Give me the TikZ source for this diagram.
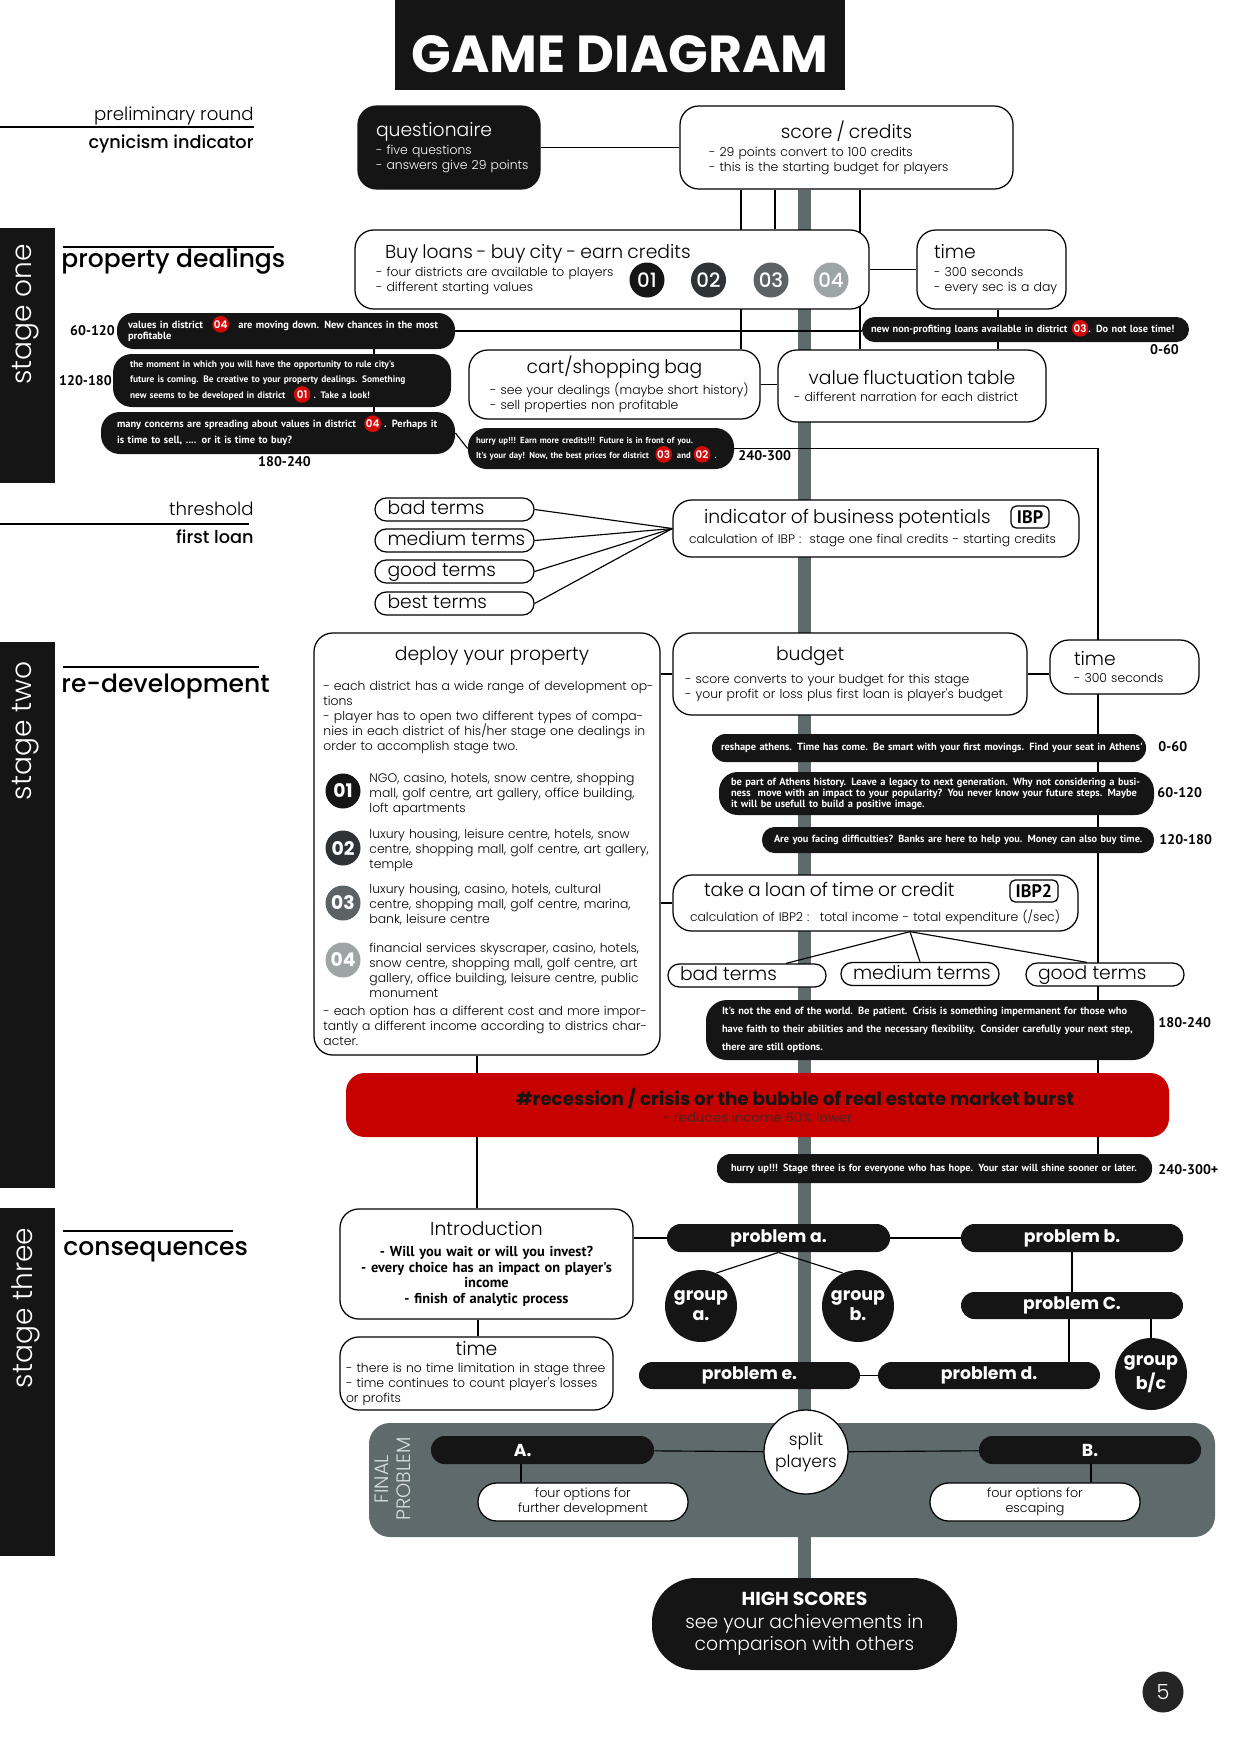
\documentclass[tikz,border=0pt]{standalone}
\usepackage{fontspec}
\setmainfont{Poppins}
\newfontfamily\lightfont{Poppins Light}
\newfontfamily\medfont{Poppins Medium}
\newfontfamily\bubfont{PT Sans}
\usetikzlibrary{backgrounds}

\definecolor{ink}{HTML}{151515}
\definecolor{spinegray}{HTML}{5F6A6C}
\definecolor{alarm}{HTML}{C70000}
\definecolor{alarmtxt}{HTML}{4E2424}
\definecolor{dtwo}{HTML}{2F3335}
\definecolor{dthree}{HTML}{5B6365}
\definecolor{dfour}{HTML}{9EA6A5}
\definecolor{dotred}{HTML}{D20A0A}
\definecolor{paneltxt}{HTML}{DADEDE}
\definecolor{pagegray}{HTML}{252525}

\newdimen\pxu \pxu=0.48pt
\newcommand\ttlfont{\lightfont\mdseries\fontsize{9}{10}\selectfont}
\newcommand\bodyfont{\lightfont\fontsize{5.95}{7.2}\selectfont}
\newcommand\bubsize[2]{\bubfont\bfseries\fontsize{#1}{#2}\selectfont}
\newcommand\termtxt[1]{\makebox[134\pxu][l]{#1}}
\newcommand\rdot[2]{\smash{\tikz[baseline=(#1.base)]\node[rdot] (#1) {#2};}}

\tikzset{
  link/.style={line width=0.55pt},
  spine/.style={line width=13*\pxu, spinegray},
  box/.style={draw, line width=0.6pt, fill=white, rounded corners=9pt, align=left, inner ysep=0pt, font=\bodyfont},
  darkbox/.style={box, draw=ink, fill=ink, text=white},
  tagbox/.style={draw, line width=0.6pt, rounded corners=2.5pt, inner sep=0pt, font=\bubsize{8.7}{9}},
  term/.style={draw, line width=0.6pt, fill=white, rounded corners=5.4pt, minimum width=159*\pxu, minimum height=23*\pxu, inner sep=0pt, text height=7pt, text depth=2pt, font=\lightfont\fontsize{9}{9}\selectfont},
  dcirc/.style={circle, inner sep=0pt, minimum size=35*\pxu, text=white, font=\medfont\fontsize{9.5}{10}\selectfont},
  bubble/.style={fill=ink, text=white, rounded corners=#1, inner ysep=0pt, align=left},
  bubble/.default=6pt,
  rdot/.style={circle, draw=none, fill=dotred, text=white, sharp corners, inner sep=0pt, minimum size=8pt, text width={}, anchor=center, font=\lightfont\fontsize{5}{5}\selectfont},
  tlabel/.style={inner sep=0pt, font=\bubsize{6.7}{7}},
  lbl/.style={inner sep=0pt, font=\lightfont\fontsize{8.7}{10}\selectfont},
  lblm/.style={inner sep=0pt, font=\medfont\fontsize{8.5}{10}\selectfont},
  head/.style={inner sep=0pt, anchor=base west, font=\medfont\fontsize{12}{14}\selectfont},
  stagebar/.style={fill=ink, inner sep=0pt, minimum width=55*\pxu},
  stagetxt/.style={rotate=90, text=white, inner sep=0pt, font=\lightfont\fontsize{13.5}{14}\selectfont},
  txt/.style={inner sep=0pt, align=left, text width=180pt, font=\bodyfont},
  prob/.style={fill=ink, text=white, rounded corners=6.5pt, minimum width=222*\pxu, minimum height=28*\pxu, inner sep=0pt, font=\bfseries\fontsize{8.3}{8.3}\selectfont},
  grp/.style={circle, fill=ink, text=white, minimum size=72*\pxu, inner sep=0pt, align=center, font=\bfseries\fontsize{8.4}{9.6}\selectfont},
  choice/.style={draw, line width=0.6pt, fill=white, rounded corners=9pt, minimum width=210*\pxu, minimum height=38*\pxu, inner sep=0pt, align=center, font=\lightfont\fontsize{6.1}{7.2}\selectfont},
  panel/.style={fill=spinegray, rounded corners=10pt, inner sep=0pt}
}

\begin{document}
\begin{tikzpicture}[x=0.48pt, y=-0.48pt]
    \useasboundingbox (0,0) rectangle (1240,1754);

    \node[fill=ink, minimum width=450*\pxu, minimum height=90*\pxu, inner sep=0pt, text=white, text height=30pt, text depth=4pt, font=\bfseries\fontsize{25}{25}\selectfont] (title) at (620,45) {GAME DIAGRAM};

    % side labels
    \node[lbl, anchor=base east] (prelim) at (254,120) {preliminary round};
    \draw[link] (0,127) -- (254,127);
    \node[lblm, anchor=base east] (cynic) at (254,148) {cynicism indicator};
    \node[lbl, anchor=base east] (threshold) at (254,515) {threshold};
    \draw[link] (0,524) -- (249,524);
    \node[lblm, anchor=base east] (firstloan) at (254,543) {first loan};

    \node[stagebar, minimum height=255*\pxu] (stageone) at (27.5,355.5) {};
    \node[stagetxt] (stageonetxt) at (26,314.5) {stage one};
    \node[stagebar, minimum height=546*\pxu] (stagetwo) at (27.5,915) {};
    \node[stagetxt] (stagetwotxt) at (26,731) {stage two};
    \node[stagebar, minimum height=348*\pxu] (stagethree) at (27.5,1382) {};
    \node[stagetxt] (stagethreetxt) at (26,1308) {stage three};

    \node[head] (dealings) at (61,267) {property dealings};
    \draw[link] (63,247) -- (274,247);
    \node[head] (redev) at (61,692) {re-development};
    \draw[link] (63,667) -- (259,667);
    \node[head] (conseq) at (63,1255) {consequences};
    \draw[link] (63,1231) -- (233,1231);

    % preliminary round
    \node[darkbox, minimum width=182*\pxu, minimum height=83*\pxu, inner xsep=18*\pxu, text width=146*\pxu] (quest) at (449,147.5)
        {{\ttlfont questionaire}\\[1.3pt] - five questions\\ \mbox{- answers give 29 points}};
    \node[box, minimum width=333*\pxu, minimum height=83*\pxu, inner xsep=29*\pxu, text width=275*\pxu] (score) at (846.5,147.5)
        {\makebox[\hsize]{\ttlfont score / credits}\\[1.3pt] \mbox{- 29 points convert to 100 credits}\\ \mbox{- this is the starting budget for players}};

    % stage one
    \node[box, minimum width=514*\pxu, minimum height=79*\pxu, inner xsep=21*\pxu, text width=472*\pxu] (buy) at (612,269.5)
        {{\hspace*{9\pxu}\ttlfont Buy loans - buy city - earn credits}\\[1.3pt] - four districts are available to players\\ - different starting values};
    \node[dcirc, fill=ink] (d1) at (647,280) {01};
    \node[dcirc, fill=dtwo] (d2) at (708.5,280) {02};
    \node[dcirc, fill=dthree] (d3) at (771,280) {03};
    \node[dcirc, fill=dfour] (d4) at (831,280) {04};
    \node[box, minimum width=149*\pxu, minimum height=79*\pxu, inner xsep=17*\pxu, text width=115*\pxu] (time1) at (991.5,269.5)
        {{\ttlfont time}\\[1.3pt] \mbox{- 300 seconds}\\ \mbox{- every sec is a day}};
    \node[box, minimum width=291*\pxu, minimum height=69*\pxu, inner xsep=21*\pxu, text width=249*\pxu] (cart) at (614.5,384.5)
        {\makebox[\hsize]{\ttlfont cart/shopping bag}\\[1.3pt] \mbox{- see your dealings (maybe short history)}\\ \mbox{- sell properties non profitable}};
    \node[box, minimum width=268*\pxu, minimum height=72*\pxu, inner xsep=16*\pxu, text width=236*\pxu] (value) at (912,386)
        {\makebox[\hsize]{\ttlfont value fluctuation table}\\[1.3pt] \mbox{- different narration for each district}};

    \node[bubble=8pt, minimum width=338*\pxu, minimum height=36*\pxu, inner xsep=11*\pxu, text width=316*\pxu, font=\bubsize{5}{5.3}] (valuesdrop) at (286,331)
        {\mbox{values in district\hspace{4.5pt}\rdot{dA}{04}\hspace{4.5pt}are moving down. New chances in the most}\\ profitable};
    \node[bubble=9pt, minimum width=338*\pxu, minimum height=53*\pxu, inner xsep=17*\pxu, text width=304*\pxu, font=\bubsize{4.5}{7.4}] (ruletime) at (282,380.5)
        {\mbox{the moment in which you will have the opportunity to rule city's}\\ \mbox{future is coming. Be creative to your property dealings. Something}\\ \mbox{new seems to be developed in district\hspace{4pt}\rdot{dB}{01}\hspace{1.5pt}. Take a look!}};
    \node[bubble=9pt, minimum width=354*\pxu, minimum height=42*\pxu, inner xsep=16*\pxu, text width=322*\pxu, font=\bubsize{5}{7.7}] (concerns) at (278,433)
        {\mbox{many concerns are spreading about values in district\hspace{4pt}\rdot{dC}{04}\hspace{1.5pt}. Perhaps it}\\ is time to sell, .... or it is time to buy?};
    \node[bubble=9pt, minimum width=266*\pxu, minimum height=41*\pxu, inner xsep=8*\pxu, text width=250*\pxu, font=\bubsize{4.2}{7.2}] (hurrycredits) at (601,448.5)
        {\mbox{hurry up!!! Earn more credits!!! Future is in front of you.}\\ \mbox{It's your day! Now, the best prices for district\hspace{3pt}\rdot{dD}{03}\hspace{1pt} and \rdot{dE}{02}\hspace{2pt}.}};
    \node[bubble=6pt, minimum width=327*\pxu, minimum height=25*\pxu, inner xsep=9*\pxu, text width=309*\pxu, font=\bubsize{4.95}{5}] (nonprofit) at (1025.5,329.5)
        {\mbox{new non-profiting loans available in district\hspace{2pt}\rdot{dF}{03}. Do not lose time!}};

    \node[tlabel, anchor=base] (ta1) at (92.5,335) {60-120};
    \node[tlabel, anchor=base] (ta2) at (85.5,385) {120-180};
    \node[tlabel, anchor=base] (ta3) at (284.5,466) {180-240};
    \node[tlabel, anchor=base west] (ta4) at (738,460) {240-300};
    \node[tlabel, anchor=base] (ta0) at (1164.5,354) {0-60};

    % threshold
    \node[term] (bad) at (454.5,509.5) {\termtxt{bad terms}};
    \node[term] (medium) at (454.5,540.5) {\termtxt{medium terms}};
    \node[term] (good) at (454.5,571.5) {\termtxt{good terms}};
    \node[term] (best) at (454.5,603.5) {\termtxt{best terms}};
    \node[box, minimum width=406*\pxu, minimum height=57*\pxu, inner xsep=16*\pxu, text width=374*\pxu] (ibp) at (876,528.5)
        {{\hspace*{15\pxu}\ttlfont indicator of business potentials}\\[2.4pt] \mbox{calculation of IBP :~ stage one final credits - starting credits}};
    \node[tagbox, minimum width=38*\pxu, minimum height=22*\pxu] (ibptag) at (1030,517) {IBP};

    % stage two
    \node[box, minimum width=346*\pxu, minimum height=422*\pxu] (deploy) at (487,844) {};
    \node[inner sep=0pt, anchor=base, font=\ttlfont] (deploytitle) at (492,660) {deploy your property};
    \node[txt, anchor=base west] (deployintro) at (323,690)
        {- each district has a wide range of development op-\\ tions\\ - player has to open two different types of compa-\\ nies in each district of his/her stage one dealings in\\ order to accomplish stage two.};
    \node[dcirc, fill=ink, font=\bfseries\fontsize{9}{10}\selectfont] (p1) at (343,791) {01};
    \node[txt, anchor=base west] (p1txt) at (369,782) {NGO, casino, hotels, snow centre, shopping\\ mall, golf centre, art gallery, office building,\\ loft apartments};
    \node[dcirc, fill=dtwo, font=\bfseries\fontsize{9}{10}\selectfont] (p2) at (343,848) {02};
    \node[txt, anchor=base west] (p2txt) at (369,838) {luxury housing, leisure centre, hotels, snow\\ centre, shopping mall, golf centre, art gallery,\\ temple};
    \node[dcirc, fill=dthree, font=\bfseries\fontsize{9}{10}\selectfont] (p3) at (343,903) {03};
    \node[txt, anchor=base west] (p3txt) at (369,893) {luxury housing, casino, hotels, cultural\\ centre, shopping mall, golf centre, marina,\\ bank, leisure centre};
    \node[dcirc, fill=dfour, font=\bfseries\fontsize{9}{10}\selectfont] (p4) at (343,960) {04};
    \node[txt, anchor=base west] (p4txt) at (369,952) {financial services skyscraper, casino, hotels,\\ snow centre, shopping mall, golf centre, art\\ gallery, office building, leisure centre, public\\ monument};
    \node[txt, anchor=base west] (deployoutro) at (323,1015)
        {- each option has a different cost and more impor-\\ tantly a different income according to districs char-\\ acter.};

    \node[box, minimum width=354*\pxu, minimum height=82*\pxu, inner xsep=12*\pxu, text width=330*\pxu] (budget) at (850,674)
        {{\hspace*{91\pxu}\ttlfont budget}\\[3.8pt] \mbox{- score converts to your budget for this stage}\\ \mbox{- your profit or loss plus first loan is player's budget}};
    \node[box, minimum width=149*\pxu, minimum height=54*\pxu, inner xsep=24*\pxu, text width=101*\pxu] (time2) at (1124.5,667)
        {{\ttlfont time}\\[1pt] \mbox{- 300 seconds}};

    \node[bubble=6.5pt, minimum width=434*\pxu, minimum height=28*\pxu, inner xsep=9*\pxu, text width=416*\pxu, font=\bubsize{5}{5.3}] (reshape) at (929,748)
        {\mbox{reshape athens. Time has come. Be smart with your first movings. Find your seat in Athens'}};
    \node[bubble=9pt, minimum width=435*\pxu, minimum height=43*\pxu, inner xsep=12*\pxu, text width=411*\pxu, font=\bubsize{5}{5.3}] (legacy) at (936.5,793.5)
        {\mbox{be part of Athens history. Leave a legacy to next generation. Why not considering a busi-}\\ \mbox{ness~ move with an impact to your popularity? You never know your future steps. Maybe}\\ \mbox{it will be usefull to build a positive image.}};
    \node[bubble=6pt, minimum width=392*\pxu, minimum height=26*\pxu, inner xsep=12*\pxu, text width=368*\pxu, font=\bubsize{4.95}{5}] (banks) at (958,840)
        {\mbox{Are you facing difficulties? Banks are here to help you. Money can also buy time.}};
    \node[tlabel, anchor=base west] (tb0) at (1158,751) {0-60};
    \node[tlabel, anchor=base west] (tb1) at (1157,797) {60-120};
    \node[tlabel, anchor=base west] (tb2) at (1159,844) {120-180};

    \node[box, minimum width=405*\pxu, minimum height=56*\pxu, inner xsep=17*\pxu, text width=371*\pxu] (take) at (875.5,903)
        {{\hspace*{14\pxu}\ttlfont take a loan of time or credit}\\[4.8pt] \mbox{calculation of IBP2 :~ total income - total expenditure (/sec)}};
    \node[tagbox, minimum width=48*\pxu, minimum height=22*\pxu] (taketag) at (1034,891) {IBP2};
    \node[term, minimum width=158*\pxu] (badtwo) at (747,975.5) {\termtxt{bad terms}};
    \node[term, minimum width=158*\pxu] (mediumtwo) at (920,974) {\termtxt{medium terms}};
    \node[term, minimum width=158*\pxu] (goodtwo) at (1105,974.5) {\termtxt{good terms}};

    \node[bubble=10pt, minimum width=448*\pxu, minimum height=60*\pxu, inner xsep=16*\pxu, text width=416*\pxu, font=\bubsize{5}{8.6}] (patience) at (930,1030)
        {\mbox{It's not the end of the world. Be patient. Crisis is something impermanent for those who}\\ \mbox{have faith to their abilities and the necessary flexibility. Consider carefully your next step,}\\ there are still options.};
    \node[tlabel, anchor=base west] (tb3) at (1158,1027) {180-240};

    \node[fill=alarm, rounded corners=9pt, minimum width=823*\pxu, minimum height=64*\pxu, inner sep=0pt, align=center, font=\bodyfont] (crisis) at (757.5,1105)
        {\hspace*{36pt}{\normalfont\bfseries\fontsize{8.8}{9}\selectfont\color{ink}\#recession / crisis or the bubble of real estate market burst}\\[1pt] {\normalfont\fontsize{6.4}{7}\selectfont\color{alarmtxt}- reduces income 60\% lower}};

    \node[bubble=6.5pt, minimum width=435*\pxu, minimum height=29*\pxu, inner xsep=14*\pxu, text width=407*\pxu, font=\bubsize{4.95}{5}] (hurrythree) at (934.5,1168.5)
        {\mbox{hurry up!!! Stage three is for everyone who has hope. Your star will shine sooner or later.}};
    \node[tlabel, anchor=base west] (tb4) at (1158,1174) {240-300+};

    % stage three
    \node[box, minimum width=293*\pxu, minimum height=110*\pxu, inner xsep=6*\pxu, text width=281*\pxu, align=center, font=\bubsize{6.9}{7.5}] (intro) at (486.5,1264)
        {{\ttlfont Introduction}\\[2.5pt] - Will you wait or will you invest?\\ - every choice has an impact on player's\\ income\\ - finish of analytic process};
    \node[box, minimum width=273*\pxu, minimum height=73*\pxu, inner xsep=6*\pxu, text width=261*\pxu] (time3) at (476.5,1373.5)
        {\makebox[\hsize]{\ttlfont time}\\[1.3pt] \mbox{- there is no time limitation in stage three}\\ \mbox{- time continues to count player's losses}\\ or profits};

    \node[prob, minimum width=223*\pxu] (proba) at (778.5,1238) {problem a.};
    \node[prob] (probb) at (1072,1238) {problem b.};
    \node[prob, minimum height=27*\pxu] (probc) at (1072,1305.5) {problem C.};
    \node[prob, minimum height=27*\pxu] (probd) at (989,1375.5) {problem d.};
    \node[prob, minimum height=27*\pxu, minimum width=221*\pxu] (probe) at (749.5,1375.5) {problem e.};
    \node[grp] (grpa) at (701,1306) {group\\a.};
    \node[grp] (grpb) at (858,1306) {group\\b.};
    \node[grp] (grpbc) at (1151,1374) {group\\b/c};

    \node[rotate=90, text=paneltxt, align=center, inner sep=0pt, font=\lightfont\fontsize{9.3}{10.6}\selectfont] (finaltxt) at (393,1479) {FINAL\\PROBLEM};
    \node[prob, minimum width=223*\pxu] (optA) at (542.5,1450) {A.\hspace*{19pt}};
    \node[prob] (optB) at (1090,1450) {B.};
    \node[circle, draw, line width=0.6pt, fill=white, minimum size=84*\pxu, inner sep=0pt, align=center, font=\lightfont\fontsize{8.2}{10.6}\selectfont] (split) at (806,1452) {split\\players};
    \node[choice] (choiceA) at (583,1502) {four options for\\further development};
    \node[choice] (choiceB) at (1035,1502) {four options for\\escaping};

    \node[fill=ink, text=white, rounded corners=21pt, minimum width=305*\pxu, minimum height=92*\pxu, inner sep=0pt, align=center, font=\lightfont\fontsize{9}{10.8}\selectfont] (highscores) at (804.5,1624)
        {{\normalfont\bfseries HIGH SCORES}\\ see your achievements in\\ comparison with others};
    \node[circle, fill=pagegray, text=white, minimum size=41*\pxu, inner sep=0pt, font=\lightfont\fontsize{10}{10}\selectfont] (pageno) at (1163,1692) {5};

    \begin{pgfonlayer}{background}
        \draw[spine] (804.5,0 |- score.south) -- (804.5,0 |- highscores.north);
        \node[panel, minimum width=846*\pxu, minimum height=114*\pxu] (final) at (792,1480) {};
        \draw[link] (quest) -- (score);
        \draw[link] (741,0 |- score.south) -- (741,0 |- cart.north);
        \draw[link] (775,0 |- score.south) -- (775,0 |- buy.north);
        \draw[link] (860,0 |- score.south) -- (860,0 |- value.north);
        \draw[link] (buy) -- (time1);
        \draw[link] (998,0 |- time1.south) -- (998,0 |- value.north);
        \draw[link] (cart.east) -- (cart.east -| value.west);
        \draw[link] (valuesdrop.east) -- (valuesdrop.east -| nonprofit.west);
        \draw[link] (374,0 |- valuesdrop.south) -- (374,0 |- ruletime.north);
        \draw[link] (374,0 |- ruletime.south) -- (374,0 |- concerns.north);
        \draw[link] (concerns.east) -- (hurrycredits.west);
        \draw[link] (hurrycredits.east) -- (1098,0 |- hurrycredits.east) -- (1098,0 |- hurrythree.north);
        \foreach \t in {bad,medium,good,best}
            \draw[link] (\t.east) -- (ibp.west);
        \draw[link] (budget.west -| deploy.east) -- (budget.west);
        \draw[link] (budget.east) -- (budget.east -| time2.west);
        \draw[link] (take.west -| deploy.east) -- (take.west);
        \coordinate (takefoot) at (910,0 |- take.south);
        \draw[link] (takefoot) -- (786,0 |- badtwo.north);
        \draw[link] (takefoot) -- (mediumtwo.north);
        \draw[link] (takefoot) -- (1087,0 |- goodtwo.north);
        \draw[link] (477,0 |- deploy.south) -- (477,0 |- crisis.north);
        \draw[link] (477,0 |- crisis.south) -- (477,0 |- intro.north);
        \draw[link] (478,0 |- intro.south) -- (478,0 |- time3.north);
        \draw[link] (proba.west -| intro.east) -- (proba.west);
        \draw[link] (proba) -- (probb);
        \draw[link] (proba.south) -- (grpa.65);
        \draw[link] (proba.south) -- (grpb.115);
        \draw[link] (probb) -- (probc);
        \draw[link] (1069,0 |- probc.south) -- (1069,0 |- probd.north);
        \draw[link] (grpbc.north |- probc.south) -- (grpbc.north);
        \draw[link] (probe) -- (probd);
        \draw[link] (optA) -- (split) -- (optB);
        \draw[link] (521,0 |- optA.south) -- (521,0 |- choiceA.north);
        \draw[link] (1091,0 |- optB.south) -- (1091,0 |- choiceB.north);
    \end{pgfonlayer}
\end{tikzpicture}
\end{document}
